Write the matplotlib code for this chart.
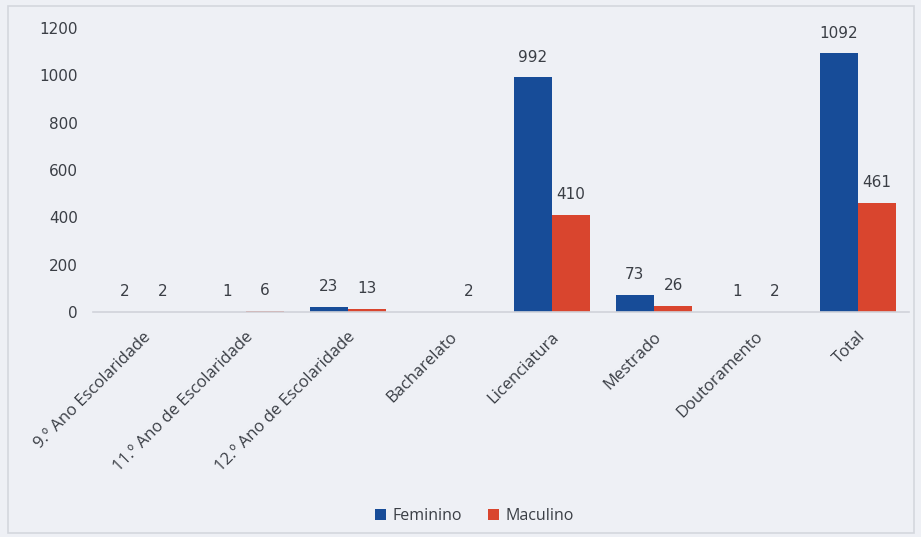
import numpy as np
import matplotlib
matplotlib.use("Agg")
import matplotlib.pyplot as plt
from matplotlib.patches import Rectangle
from matplotlib.transforms import offset_copy

categories = ["9.º Ano Escolaridade", "11.º Ano de Escolaridade", "12.º Ano de Escolaridade",
              "Bacharelato", "Licenciatura", "Mestrado", "Doutoramento", "Total"]
feminino = [2, 1, 23, np.nan, 992, 73, 1, 1092]
masculino = [2, 6, 13, 2, 410, 26, 2, 461]
series_names = ["Feminino", "Maculino"]
y_ticks = [0, 200, 400, 600, 800, 1000, 1200]

BLUE = "#174c98"
RED = "#d9452e"
BG = "#eef0f5"
TEXT = "#3a3e45"

fig = plt.figure(figsize=(9.21, 5.37), dpi=100, facecolor=BG)
fig.patches.append(Rectangle((8 / 921, 4 / 537), 906 / 921, 527 / 537, transform=fig.transFigure,
                             fill=False, edgecolor="#d4d7de", linewidth=1.2))
ax = fig.add_axes([0.101, 0.419, 0.886, 0.529])
ax.set_facecolor(BG)

x = np.arange(len(categories))
w = 0.375
b1 = ax.bar(x - w / 2, feminino, w, color=BLUE, label=series_names[0])
b2 = ax.bar(x + w / 2, masculino, w, color=RED, label=series_names[1])

# value labels above each bar (the missing Bacharelato entry gets none)
for bars, vals in ((b1, feminino), (b2, masculino)):
    for rect, v in zip(bars, vals):
        if np.isnan(v):
            continue
        ax.annotate(f"{int(v)}", (rect.get_x() + rect.get_width() / 2, v),
                    xytext=(0, 9), textcoords="offset points", ha="center", va="bottom",
                    fontsize=11, color=TEXT, family="DejaVu Sans")

ax.set_xlim(-0.5, len(categories) - 0.5)
ax.set_ylim(0, 1200)
ax.set_yticks(y_ticks)
ax.set_yticklabels([str(t) for t in y_ticks], fontsize=11, color=TEXT, family="DejaVu Sans")
ax.tick_params(axis="y", length=0, pad=11)
ax.tick_params(axis="x", length=0)
ax.set_xticks(x)
ax.set_xticklabels(categories, rotation=45, ha="right", rotation_mode="anchor",
                   fontsize=12, color=TEXT, family="Open Sans")
for lbl in ax.get_xticklabels():
    lbl.set_transform(offset_copy(lbl.get_transform(), fig=fig, x=-1, y=-12, units="dots"))

for s in ("top", "right", "left"):
    ax.spines[s].set_visible(False)
ax.spines["bottom"].set_color("#d0d3da")
ax.spines["bottom"].set_linewidth(1.2)

leg = fig.legend(handles=[b1, b2], labels=series_names, loc="center", bbox_to_anchor=(0.515, 0.039),
                 ncol=2, frameon=False, handlelength=0.7, handleheight=0.7, handletextpad=0.4,
                 columnspacing=1.6, prop={"family": "Open Sans", "size": 11.5})
for t in leg.get_texts():
    t.set_color(TEXT)

fig.savefig("out.png", dpi=100, facecolor=BG)
